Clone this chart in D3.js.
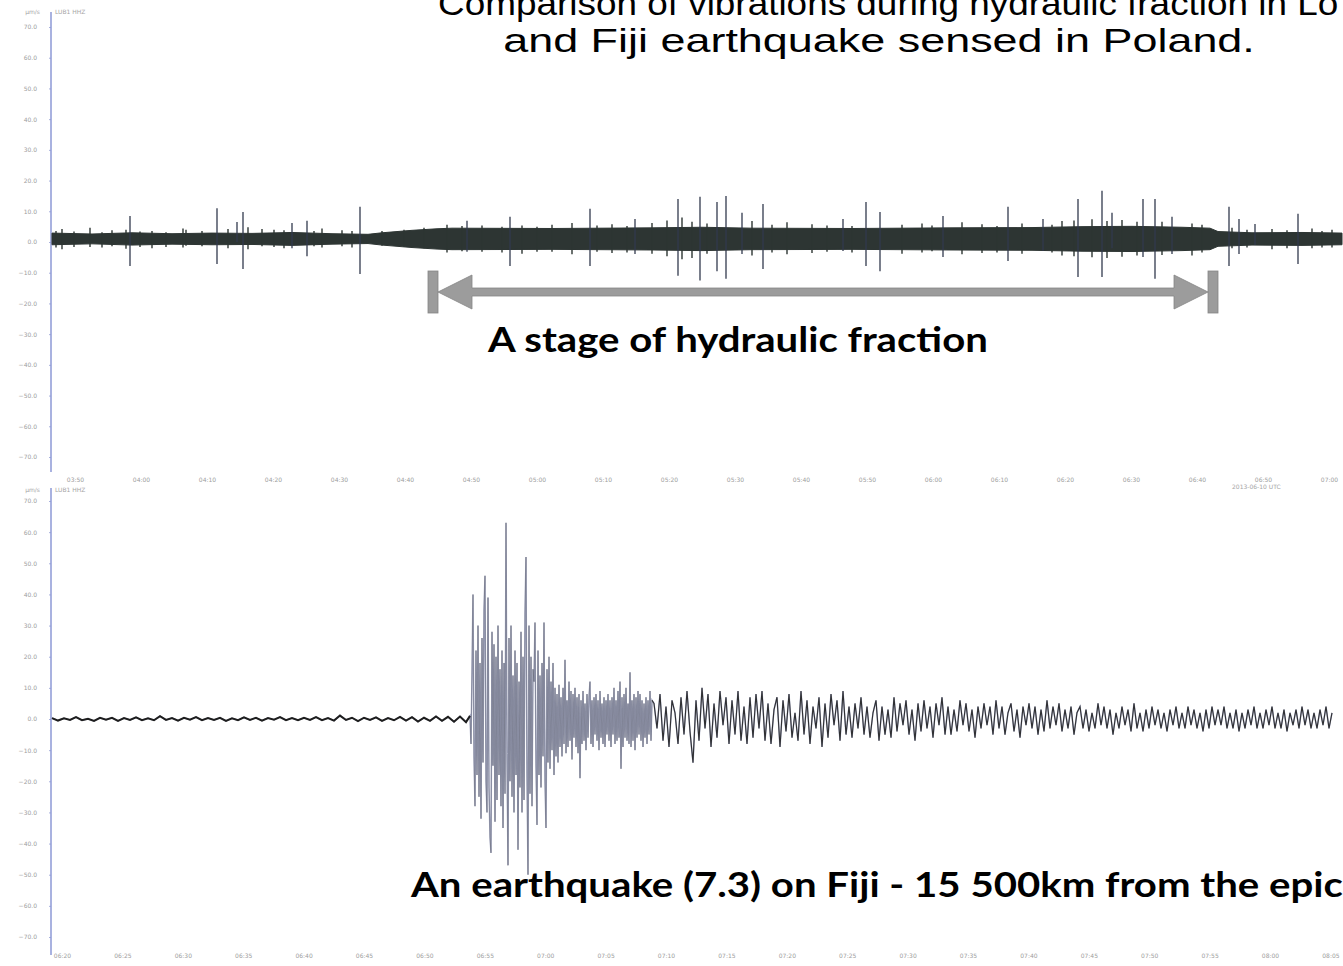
<!DOCTYPE html>
<html lang="en">
<head>
  <meta charset="UTF-8">
  <script src="https://d3js.org/d3.v7.min.js"></script>
  <title>Hydraulic fraction vs Fiji earthquake</title>
  <style>
    body { margin: 0; background: #fff; }
    svg { display: block; }
    .tick text { fill: #9d9d9d; font: 6px "DejaVu Sans", sans-serif; }
    .small { fill: #a5a5a5; font: 6px "DejaVu Sans", sans-serif; }
  </style>
</head>
<body>
  <svg width="1343" height="966"></svg>
  <script>
    // samples along the record (same span for both traces)
    const stageStart = 376, stageEnd = 1166
    const topBaseline = 1.0

    // top trace: half width of the noise band [sample, amplitude]
    const bandEnvelope = [
      [0, 1.9], [40, 1.6], [80, 2.0], [120, 1.7], [160, 1.9], [200, 1.8], [240, 2.1], [280, 1.7],
      [316, 1.5], [330, 2.0], [360, 2.8], [385, 3.3], [400, 3.5], [500, 3.4], [600, 3.6], [650, 3.8],
      [700, 3.5], [800, 3.4], [900, 3.6], [980, 3.7], [1030, 4.0], [1080, 4.1], [1130, 3.8], [1158, 3.5],
      [1166, 2.4], [1200, 2.0], [1250, 2.1], [1290, 1.9]
    ]
    // top trace: clear spikes [sample, up, down]
    const spikes = [
      [78, 7.5, 8.8], [165, 10, 8.2], [185, 5.5, 1], [191, 8.8, 9.8], [240, 5.2, 3], [255, 5.9, 5.6],
      [308, 10.5, 11.4], [415, 5.9, 4.2], [458, 7.2, 8.8], [538, 9.8, 8.8], [583, 6.5, 4.9],
      [626, 13, 12], [648, 13.7, 13.5], [665, 12, 10.5], [674, 14, 13], [690, 8.5, 4.9], [711, 11.4, 9.8],
      [791, 6.5, 3.9], [814, 12, 8.8], [828, 8.8, 10.5], [891, 7.5, 5.9], [956, 10.5, 7.2], [991, 6.5, 3.9],
      [1026, 13, 12.4], [1050, 15.7, 12.4], [1060, 8.5, 3], [1091, 13, 5.9], [1103, 13, 13], [1120, 7.2, 4.9],
      [1177, 10.5, 8.8], [1187, 6.5, 4.9], [1203, 4.9, 2], [1246, 8.2, 8.2]
    ]
    // top trace: small spikes that roughen the band
    const minorSpikes = [
      [4, 2.6, 2.8], [10, 3.2, 3.4], [22, 2.4, 2.6], [38, 3.6, 2.6], [50, 2.2, 2.8], [60, 2.8, 2.4], [74, 3.0, 3.2],
      [88, 2.4, 2.6], [100, 2.6, 3.0], [114, 2.2, 2.6], [131, 3.4, 2.8], [134, 3.0, 2.2], [150, 2.6, 2.4],
      [176, 3.2, 3.0], [196, 3.8, 3.4], [210, 3.2, 2.4], [222, 3.0, 2.6], [232, 2.8, 3.0], [262, 2.6, 2.4],
      [270, 3.4, 2.8], [290, 2.8, 2.4], [300, 2.6, 2.8], [330, 2.6, 2.2], [352, 3.0, 2.6], [372, 3.6, 3.0],
      [395, 4.6, 4.4], [410, 4.2, 4.0], [430, 4.4, 4.2], [450, 4.0, 4.4], [470, 4.4, 4.8], [485, 4.0, 4.2],
      [500, 4.6, 4.2], [520, 5.2, 5.0], [545, 4.4, 4.2], [560, 4.8, 4.6], [575, 4.2, 4.4], [600, 5.2, 4.8],
      [615, 6.0, 5.6], [630, 7.0, 6.6], [640, 5.6, 6.2], [655, 5.0, 4.8], [700, 5.8, 5.4], [720, 4.6, 4.4],
      [735, 5.4, 5.0], [760, 4.8, 4.6], [775, 4.4, 4.2], [800, 4.2, 4.4], [850, 4.6, 4.8], [870, 5.0, 4.4],
      [880, 4.4, 4.0], [910, 5.4, 5.0], [930, 4.8, 4.6], [945, 4.2, 4.4], [970, 5.0, 4.8], [1000, 4.6, 4.4],
      [1010, 5.8, 5.4], [1022, 6.0, 5.6], [1040, 6.4, 6.0], [1055, 5.8, 6.2], [1070, 6.2, 5.8], [1085, 5.6, 5.4],
      [1110, 5.6, 5.2], [1140, 5.0, 5.4], [1150, 4.6, 4.4], [1180, 3.6, 3.0], [1195, 3.0, 2.8], [1220, 3.2, 3.4],
      [1235, 2.8, 3.0], [1260, 3.4, 3.0], [1270, 2.6, 2.8], [1280, 3.0, 2.8]
    ]

    // bottom trace: earthquake record, three stretches with their own sample step
    const preStart = 0, preStep = 6
    const preQuake = [
      0.3, -0.5, 0.2, -0.3, 0.6, -0.4, 0.1, -0.6, 0.4, -0.2, 0.4, -0.6, 0.3, -0.3, 0.5, -0.4, 0.2, -0.4, 0.9, -0.3,
      0.3, -0.5, 0.4, -0.2, 0.6, -0.4, 0.3, -0.3, 0.4, -0.6, 0.2, -0.4, 0.5, -0.3, 0.4, -0.5, 0.3, -0.2, 0.6, -0.4,
      0.3, -0.4, 0.4, -0.3, 0.6, -0.4, 0.3, -0.5, 1.1, -0.3, 0.4, -0.7, 0.4, -0.3, 0.5, -0.6, 0.3, -0.4, 0.7, -0.5,
      0.6, -0.8, 0.4, -0.6, 0.8, -0.6, 0.7, -0.9, 0.8, -1.0
    ]
    const burstStart = 418, burstStep = 1
    const burst = [
      1, -8, 15, 40, -12, -28, 22, -18, 30, -25,
      18, -32, 26, -14, 35, 46, -20, -30, 39, -22,
      -38, -43, 28, -15, 24, -33, 20, -26, 30, -18,
      16, -28, 22, -35, 18, -24, 63, -12, -47, 26,
      -20, 30, -25, 14, -30, 22, -18, 18, -42, 12,
      -22, 28, -30, 20, -26, 34, 52, -18, -50, 30,
      -24, 20, -28, 16, 12, 31, -15, -34, 22, -18,
      14, -22, 18, -12, 31, -20, -35, 16, -14, 20,
      -16, 12, -10, 18, -18, 10, -12, 8, -14, 11,
      -9, 7, -12, 10, -8, 19, -11, 6, -9, 12,
      -7, 9, -13, 8, -6, 10, -9, 7, -11, 8,
      -19, 6, -8, 9, -7, 5, -10, 8, -6, 7,
      12, -8, 6, -9, 7, -5, 8, -7, 6, -10,
      9, -6, 5, -8, 7, -9, 6, -5, 8, -7,
      6, -9, 7, -5, 10, -8, 6, -7, 9, -6,
      12, -16, 7, -9, 8, -6, 10, -7, 5, -8,
      15, -9, 6, -7, 8, -10, 7, -6, 9, -5,
      8, -7, 6, -9, 5, -6, 7, -8, 6, -5,
      9, -7, 6
    ]
    const codaStart = 602, codaStep = 3
    const coda = [
      5, -3, 8, -7, 4, -9, 6, 2, -8, 7, -5, 9, -4, -14, 6, -7, 10, -3, 8, -9, 5, -6, 9, -2, 7, -8, 6, -5, 9, -7, 4, -8, 7,
      -6, 8, -3, 9, -7, 5, -8, 3, 7, -9, 6, -4, 8, -6, 2, -7, 9, -5, 6, -8, 4, -3, 7, -9, 5, -6, 8, -2, 6, -7, 9, -5, 4,
      -6, 5, -3, 7, -5, 4, -6, 2, 6, -7, 4, -5, 3, -6, 7, -4, 5, -2, 6, -5, 3, -7, 5, -4, 6, -3, 4, -6, 5, -2, 7, -5, 4,
      -5, 3, -4, 6, -2, 5, -4, 3, -6, 4, -3, 5, -2, 4, -5, 6, -3, 4, -5, 2, 5, -4, 3, -6, 4, -2, 5, -3, 4, -5, 3, -4, 6,
      -3, 4, -2, 5, -4, 3, -3, 4, -5, 2, 4, -3, 3, -4, 2, -3, 5, -2, 4, -3, 3, -5, 2, -3, 4, -2, 3, -4, 5, -3, 2, -4, 3,
      -3, 4, -2, 3, -3, 2, -4, 3, -2, 4, -3, 2, -3, 4, -2, 3, -3, 2, -4, 3, -3, 4, -2, 3, -2, 4, -3, 2, -3, 3, -4, 2, -3,
      3, -2, 4, -3, 2, -3, 3, -2, 4, -3, 2, -3, 3, -4, 2, -2, 3, -3, 4, -2, 3, -3, 2, -3, 3, -2, 4, -3, 2
    ]

    const yTicks = [-70, -60, -50, -40, -30, -20, -10, 0, 10, 20, 30, 40, 50, 60, 70]
    const topTickLabels = ['03:50', '04:00', '04:10', '04:20', '04:30', '04:40', '04:50', '05:00', '05:10', '05:20',
      '05:30', '05:40', '05:50', '06:00', '06:10', '06:20', '06:30', '06:40', '06:50', '07:00']
    const bottomTickLabels = ['06:20', '06:25', '06:30', '06:35', '06:40', '06:45', '06:50', '06:55', '07:00', '07:05', '07:10',
      '07:15', '07:20', '07:25', '07:30', '07:35', '07:40', '07:45', '07:50', '07:55', '08:00', '08:05']

    const svg = d3.select('svg')
    svg.append('rect').attr('width', 1343).attr('height', 966).attr('fill', '#fff')

    const x = d3.scaleLinear().domain([0, 1290]).range([52, 1342])
    const yTop = d3.scaleLinear().domain([-70, 70]).range([457, 27])
    const yBot = d3.scaleLinear().domain([-70, 70]).range([937, 501])

    // ---- axes
    function yAxis(scale, top, bottom, unitY) {
      const g = svg.append('g').attr('transform', 'translate(51,0)')
        .call(d3.axisLeft(scale).tickValues(yTicks).tickFormat(d3.format('.1f')).tickSize(2).tickPadding(12))
      g.select('.domain').remove()
      g.selectAll('.tick line').attr('stroke', '#a9b1dd')
      svg.append('line').attr('x1', 51).attr('x2', 51).attr('y1', top).attr('y2', bottom)
        .attr('stroke', '#8c98d6').attr('stroke-width', 1.5)
      svg.append('text').attr('class', 'small').attr('x', 40).attr('y', unitY).attr('text-anchor', 'end').text('µm/s')
      svg.append('text').attr('class', 'small').attr('x', 55).attr('y', unitY).text('LUB1 HHZ')
    }
    yAxis(yTop, 12, 472, 14)
    yAxis(yBot, 488, 955, 492)

    const topTicks = d3.range(topTickLabels.length).map(i => 23 + i * 66)
    const gxTop = svg.append('g').attr('transform', 'translate(0,475)')
      .call(d3.axisBottom(x).tickValues(topTicks).tickFormat((d, i) => topTickLabels[i]).tickSize(0))
    gxTop.select('.domain').remove()
    svg.append('text').attr('class', 'small').attr('x', 1232).attr('y', 489).text('2013-06-10 UTC')

    const bottomTicks = d3.range(bottomTickLabels.length).map(i => 10 + i * 60.4)
    const gxBot = svg.append('g').attr('transform', 'translate(0,951)')
      .call(d3.axisBottom(x).tickValues(bottomTicks).tickFormat((d, i) => bottomTickLabels[i]).tickSize(0))
    gxBot.select('.domain').remove()

    // ---- top trace: band + spikes
    const TRACE = '#2d3533'
    svg.append('path').datum(bandEnvelope)
      .attr('d', d3.area().x(d => x(d[0]))
        .y0(d => yTop(topBaseline - d[1])).y1(d => yTop(topBaseline + d[1])))
      .attr('fill', TRACE).attr('stroke', TRACE).attr('stroke-width', 1)

    svg.append('g').selectAll('line').data(minorSpikes).join('line')
      .attr('x1', d => x(d[0])).attr('x2', d => x(d[0]))
      .attr('y1', d => yTop(topBaseline + d[1])).attr('y2', d => yTop(topBaseline - d[2]))
      .attr('stroke', TRACE).attr('stroke-width', 1.4)

    svg.append('g').selectAll('line').data(spikes).join('line')
      .attr('x1', d => x(d[0])).attr('x2', d => x(d[0]))
      .attr('y1', d => yTop(topBaseline + d[1])).attr('y2', d => yTop(topBaseline - d[2]))
      .attr('stroke', '#323a4e').attr('stroke-width', 1.3)

    // ---- stage arrow
    const xs = x(stageStart), xe = x(stageEnd), ay = 292
    const arrow = svg.append('g').attr('fill', '#9c9c9c').attr('stroke', '#858585').attr('stroke-width', 0.8)
    arrow.append('rect').attr('x', xs).attr('y', ay - 21).attr('width', 10).attr('height', 42)
    arrow.append('rect').attr('x', xe - 10).attr('y', ay - 21).attr('width', 10).attr('height', 42)
    arrow.append('path').attr('d', `M${xs + 10},${ay} L${xs + 44},${ay - 17} L${xs + 44},${ay - 4} L${xe - 44},${ay - 4}
      L${xe - 44},${ay - 17} L${xe - 10},${ay} L${xe - 44},${ay + 17} L${xe - 44},${ay + 4} L${xs + 44},${ay + 4}
      L${xs + 44},${ay + 17} Z`)

    // ---- bottom trace: earthquake
    const prePts = preQuake.map((v, i) => [preStart + i * preStep, v])
    const burstPts = burst.map((v, i) => [burstStart + i * burstStep, v])
    const codaPts = coda.map((v, i) => [codaStart + i * codaStep, v])
    const qLine = d3.line().x(d => x(d[0])).y(d => yBot(d[1]))
    const allPts = [...prePts, ...burstPts, ...codaPts]

    svg.append('path').datum(allPts).attr('d', qLine)
      .attr('fill', 'none').attr('stroke', '#a4a9c4').attr('stroke-width', 1.5)
    svg.append('path').datum([...prePts, burstPts[0]]).attr('d', qLine)
      .attr('fill', 'none').attr('stroke', '#1e1e1e').attr('stroke-width', 2)
    svg.append('path').datum(burstPts).attr('d', qLine)
      .attr('fill', 'none').attr('stroke', '#333').attr('stroke-width', 0.5).attr('stroke-opacity', 0.55)
    svg.append('path').datum([burstPts[burstPts.length - 1], ...codaPts]).attr('d', qLine)
      .attr('fill', 'none').attr('stroke', '#222').attr('stroke-width', 1.1).attr('stroke-opacity', 0.9)

    // ---- text, stretched horizontally like the slide it came from
    function stretched(str, fit, opts) {
      const t = svg.append('text').attr('font-family', opts.family).attr('font-size', opts.size)
        .attr('font-weight', opts.weight).attr('fill', '#000')
      t.text(fit)
      const sx = opts.width / t.node().getComputedTextLength()
      t.text(str).attr('text-anchor', opts.anchor || 'start')
        .attr('transform', `translate(${opts.x},${opts.y}) scale(${sx},1)`)
    }
    const titleFont = '"Liberation Sans Narrow", "Liberation Sans", Arial, sans-serif'
    stretched('and Fiji earthquake sensed in Poland.', 'and Fiji earthquake sensed in Poland.',
      { family: titleFont, size: 33, weight: 400, x: 879, y: 52, width: 752, anchor: 'middle' })
    stretched('Comparison of vibrations during hydraulic fraction in Lo', 'Comparison of vibrations during hydraulic fraction in L',
      { family: titleFont, size: 33, weight: 400, x: 438, y: 15, width: 880 })

    const labelFont = 'Lato, "Open Sans", sans-serif'
    stretched('A stage of hydraulic fraction', 'A stage of hydraulic fraction',
      { family: labelFont, size: 34, weight: 700, x: 488, y: 352, width: 500 })
    stretched('An earthquake (7.3) on Fiji - 15 500km from the epicenter', 'An earthquake (7.3) on Fiji - 15 500km from the epic',
      { family: labelFont, size: 35, weight: 700, x: 411, y: 897, width: 932 })
  </script>
</body>
</html>
